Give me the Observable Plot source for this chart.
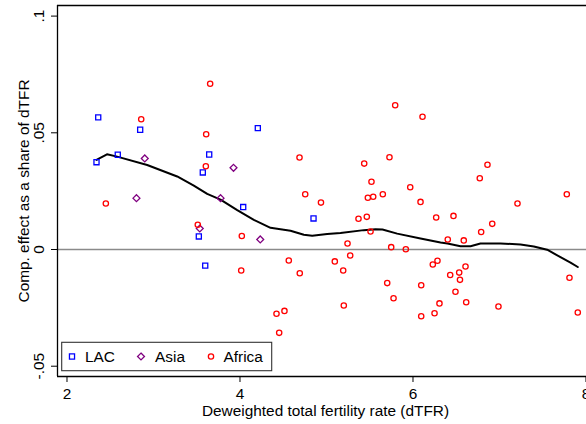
<!DOCTYPE html>
<html><head><meta charset="utf-8">
<script src="https://cdn.jsdelivr.net/npm/d3@7"></script>
<script src="https://cdn.jsdelivr.net/npm/@observablehq/plot@0.6"></script>
<style>html,body{margin:0;padding:0;background:#fff;} svg{display:block}</style>
</head><body><div id="chart"></div>
<script>
// ---- data ----
const lacX = [2.361, 2.846, 2.341, 2.587, 3.644, 3.570, 4.206, 4.037, 3.524, 3.598, 4.850];
const lacY = [0.0566, 0.0513, 0.0374, 0.0406, 0.0407, 0.0330, 0.0520, 0.0182, 0.0056, -0.0069, 0.0133];
const asiaX = [2.899, 2.803, 3.925, 3.775, 3.535, 4.234];
const asiaY = [0.0390, 0.0220, 0.0350, 0.0220, 0.0090, 0.0043];
const africaX = [3.655, 2.858, 3.609, 3.605, 2.449, 4.688, 3.512, 4.021, 4.014, 4.564, 4.691, 4.422, 4.514, 4.453, 4.754, 4.936, 5.096, 5.193, 5.200, 5.243, 5.274, 5.370, 5.436, 5.466, 5.478, 5.540, 5.509, 5.520, 5.651, 5.702, 5.728, 5.748, 5.775, 5.794, 5.917, 5.968, 6.087, 6.095, 6.095, 6.110, 6.229, 6.249, 6.268, 6.283, 6.306, 6.402, 6.430, 6.468, 6.491, 6.534, 6.543, 6.587, 6.607, 6.615, 6.772, 6.788, 6.861, 6.916, 6.988, 7.208, 7.778, 7.809, 7.905];
const africaY = [0.0710, 0.0558, 0.0494, 0.0357, 0.0197, 0.0394, 0.0106, 0.0058, -0.0090, -0.0047, -0.0102, -0.0275, -0.0263, -0.0357, 0.0237, 0.0201, -0.0051, -0.0090, -0.0240, 0.0026, -0.0026, 0.0132, 0.0368, 0.0140, 0.0222, 0.0226, 0.0077, 0.0290, 0.0237, -0.0144, 0.0395, 0.0010, -0.0209, 0.0618, 0.0001, 0.0267, 0.0204, -0.0153, -0.0286, 0.0569, -0.0064, -0.0273, 0.0137, -0.0048, -0.0231, 0.0043, -0.0109, 0.0144, -0.0181, -0.0099, -0.0130, 0.0039, -0.0073, -0.0226, 0.0305, 0.0075, 0.0363, 0.0110, -0.0244, 0.0197, 0.0237, -0.0121, -0.0270];
const fitX = [2.341, 2.462, 2.580, 2.927, 3.274, 3.466, 3.621, 3.775, 3.968, 4.160, 4.353, 4.468, 4.584, 4.738, 4.835, 5.008, 5.162, 5.431, 5.566, 5.647, 5.817, 6.087, 6.318, 6.399, 6.549, 6.665, 6.780, 7.012, 7.243, 7.397, 7.551, 7.705, 7.821, 7.905];
const fitY = [0.0384, 0.0408, 0.0398, 0.0362, 0.0313, 0.0274, 0.0238, 0.0214, 0.0169, 0.0127, 0.0093, 0.0087, 0.0080, 0.0063, 0.0059, 0.0066, 0.0071, 0.0083, 0.0087, 0.0086, 0.0068, 0.0047, 0.0030, 0.0026, 0.0014, 0.0014, 0.0026, 0.0026, 0.0021, 0.0013, -0.0001, -0.0033, -0.0056, -0.0075];
const xTicks = [2, 4, 6, 8];
const yTicks = [-0.05, 0, 0.05, 0.1];
const yTickLabels = ["-.05", "0", ".05", ".1"];
const groupNames = ["LAC", "Asia", "Africa"];
const groupColors = ["#0000ff", "#800080", "#ff0000"];
const xTitle = "Deweighted total fertility rate (dTFR)";
const yTitle = "Comp. effect as a share of dTFR";

// ---- build tables ----
const lac = lacX.map((x, i) => ({x, y: lacY[i]}));
const asia = asiaX.map((x, i) => ({x, y: asiaY[i]}));
const africa = africaX.map((x, i) => ({x, y: africaY[i]}));
const fit = fitX.map((x, i) => ({x, y: fitY[i]}));

// ---- symbols (Stata style) ----
const squareSym = {draw(ctx, size) { const s = Math.sqrt(size / Math.PI) * 0.96; ctx.rect(-s, -s, 2 * s, 2 * s); }};
const diamondSym = {draw(ctx, size) { const h = Math.sqrt(size / Math.PI) * 1.3; ctx.moveTo(0, -h); ctx.lineTo(h, 0); ctx.lineTo(0, h); ctx.lineTo(-h, 0); ctx.closePath(); }};
const circleSym = d3.symbolCircle;
const groupSyms = [squareSym, diamondSym, circleSym];
const R = 2.65;

const xDom = [1.8902, 8.0058];
const yDom = [-0.05441, 0.10454];

function legend(index, scales, values, dim) {
  const g = d3.create("svg:g");
  const x0 = dim.marginLeft + 4.7;
  const y1 = dim.height - dim.marginBottom - 5.3;
  const w = 210, h = 28.4, y0 = y1 - h;
  g.append("rect").attr("x", x0).attr("y", y0).attr("width", w).attr("height", h)
    .attr("fill", "white").attr("stroke", "#333").attr("stroke-width", 1.1);
  const symOff = [10.3, 79.3, 149.3];
  const txtOff = [23.3, 93.3, 161.8];
  groupNames.forEach((name, i) => {
    g.append("path")
      .attr("d", d3.symbol(groupSyms[i], Math.PI * R * R)())
      .attr("transform", `translate(${x0 + symOff[i]},${y0 + 14.2})`)
      .attr("fill", "none").attr("stroke", groupColors[i]).attr("stroke-width", 1.3);
    g.append("text").attr("x", x0 + txtOff[i]).attr("y", y0 + 20)
      .attr("text-anchor", "start")
      .attr("fill", "black").text(name);
  });
  return g.node();
}

const chart = Plot.plot({
  width: 586,
  height: 424,
  marginLeft: 57,
  marginRight: 0,
  marginTop: 5,
  marginBottom: 48,
  x: {domain: xDom},
  y: {domain: yDom},
  style: {fontFamily: "'Liberation Sans', Arial, sans-serif", fontSize: "15.4px", color: "black", background: "white"},
  marks: [
    Plot.ruleY([0], {stroke: "#8a8a8a", strokeWidth: 1.3}),
    Plot.line(fit, {x: "x", y: "y", stroke: "black", strokeWidth: 2}),
    Plot.dot(lac, {x: "x", y: "y", symbol: squareSym, r: R, stroke: groupColors[0], strokeWidth: 1.3, fill: "none"}),
    Plot.dot(asia, {x: "x", y: "y", symbol: diamondSym, r: R, stroke: groupColors[1], strokeWidth: 1.3, fill: "none"}),
    Plot.dot(africa, {x: "x", y: "y", symbol: "circle", r: R, stroke: groupColors[2], strokeWidth: 1.3, fill: "none"}),
    Plot.ruleX([xDom[0]], {stroke: "black", strokeWidth: 1.3}),
    Plot.ruleY([yDom[0], yDom[1]], {stroke: "black", strokeWidth: 1.3}),
    Plot.axisX({ticks: xTicks, tickSize: 6, tickPadding: 6, label: null, tickFormat: d => String(d)}),
    Plot.axisY({ticks: yTicks, tickSize: 6, label: null, tickFormat: () => ""}),
    Plot.text(yTicks, {y: d => d, frameAnchor: "left", text: (d, i) => yTickLabels[i], rotate: -90, dx: -13.5, lineAnchor: "bottom", textAnchor: "middle"}),
    Plot.text([yTitle], {frameAnchor: "left", rotate: -90, dx: -28.5, lineAnchor: "bottom", textAnchor: "middle"}),
    Plot.text([xTitle], {frameAnchor: "bottom", dx: 3.5, dy: 39, lineAnchor: "bottom"}),
    legend
  ]
});
document.getElementById("chart").appendChild(chart);
</script>
</body></html>
